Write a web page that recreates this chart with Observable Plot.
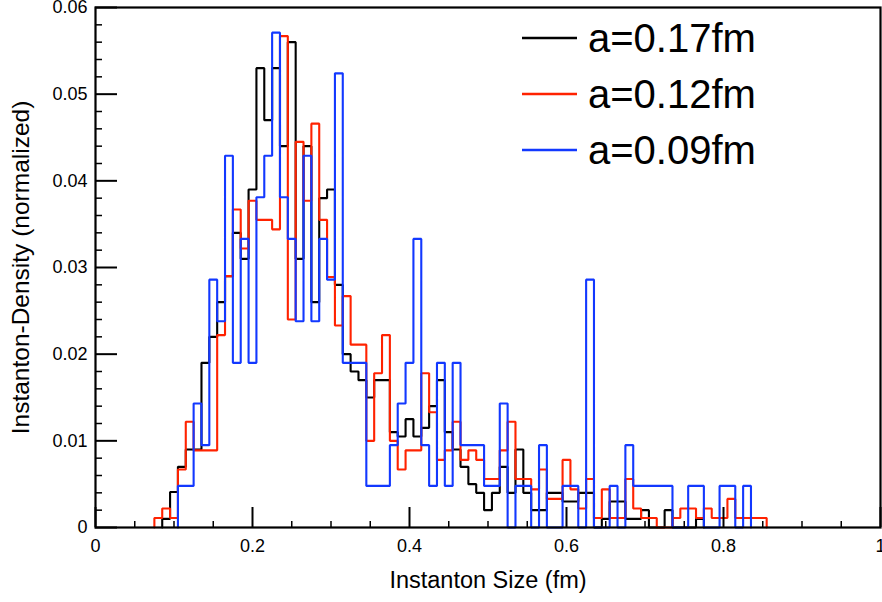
<!DOCTYPE html>
<html>
<head>
<meta charset="utf-8">
<script src="https://cdn.jsdelivr.net/npm/d3@7"></script>
<script src="https://cdn.jsdelivr.net/npm/@observablehq/plot@0.6"></script>
<style>
  html, body { margin: 0; padding: 0; background: #fff; }
</style>
</head>
<body>
<div id="chart"></div>
<script>
// ---- data ----
const binWidth = 0.01;
const binCenters = [
  0.08, 0.09, 0.10, 0.11, 0.12, 0.13, 0.14, 0.15, 0.16, 0.17,
  0.18, 0.19, 0.20, 0.21, 0.22, 0.23, 0.24, 0.25, 0.26, 0.27,
  0.28, 0.29, 0.30, 0.31, 0.32, 0.33, 0.34, 0.35, 0.36, 0.37,
  0.38, 0.39, 0.40, 0.41, 0.42, 0.43, 0.44, 0.45, 0.46, 0.47,
  0.48, 0.49, 0.50, 0.51, 0.52, 0.53, 0.54, 0.55, 0.56, 0.57,
  0.58, 0.59, 0.60, 0.61, 0.62, 0.63, 0.64, 0.65, 0.66, 0.67,
  0.68, 0.69, 0.70, 0.71, 0.72, 0.73, 0.74, 0.75, 0.76, 0.77,
  0.78, 0.79, 0.80, 0.81, 0.82, 0.83, 0.84, 0.85
];
// a = 0.17 fm
const densityA017 = [
  0, 0.001, 0.0041, 0.007, 0.009, 0.009, 0.019, 0.022, 0.026, 0.029,
  0.034, 0.031, 0.039, 0.053, 0.047, 0.053, 0.044, 0.056, 0.031, 0.044,
  0.026, 0.038, 0.039, 0.028, 0.020, 0.018, 0.017, 0.015, 0.017, 0.017,
  0.011, 0.0105, 0.0125, 0.0105, 0.0115, 0.014, 0.017, 0.011, 0.009, 0.007,
  0.005, 0.004, 0.002, 0.004, 0.007, 0.004, 0.009, 0.004, 0.002, 0.002,
  0.004, 0.004, 0.003, 0.003, 0.004, 0.004, 0, 0.001, 0.003, 0.003,
  0.001, 0.001, 0.002, 0, 0, 0.002, 0, 0, 0, 0.001,
  0, 0, 0, 0, 0, 0, 0, 0
];
// a = 0.12 fm
const densityA012 = [
  0.0011, 0.0022, 0.0011, 0.0067, 0.0122, 0.0089, 0.0089, 0.0089, 0.0222, 0.029,
  0.0367, 0.0322, 0.0377, 0.0355, 0.0355, 0.0344, 0.0567, 0.024, 0.0445, 0.0377,
  0.0466, 0.0355, 0.0289, 0.0233, 0.0267, 0.0211, 0.0211, 0.010, 0.0178, 0.0222,
  0.010, 0.0067, 0.0089, 0.0089, 0.0178, 0.0133, 0.0078, 0.0089, 0.0122, 0.0078,
  0.0089, 0.0078, 0.0056, 0.0056, 0.0089, 0.0122, 0.0056, 0.0056, 0.0044, 0.0067,
  0.0033, 0.0033, 0.0078, 0.0044, 0.0022, 0.0056, 0.0011, 0.0044, 0.0011, 0.0011,
  0.0056, 0.0022, 0.0011, 0.0011, 0, 0, 0.0011, 0.0022, 0.0022, 0.0011,
  0.0022, 0.0011, 0.0011, 0.0033, 0.0011, 0.0011, 0.0011, 0.0011
];
// a = 0.09 fm
const densityA009 = [
  0, 0, 0, 0.0048, 0.0048, 0.0143, 0.0095, 0.0286, 0.0238, 0.0429,
  0.019, 0.0333, 0.019, 0.0381, 0.0429, 0.0571, 0.0381, 0.0333, 0.0238, 0.0429,
  0.0238, 0.0333, 0.0286, 0.0524, 0.019, 0.019, 0.019, 0.0048, 0.0048, 0.0048,
  0.0095, 0.0143, 0.019, 0.0333, 0.0095, 0.0048, 0.019, 0.0048, 0.019, 0.0095,
  0.0095, 0.0095, 0.0048, 0.0048, 0.0143, 0, 0.0048, 0.0048, 0, 0.0095,
  0, 0, 0.0048, 0.0048, 0, 0.0286, 0, 0, 0.0048, 0,
  0.0095, 0.0048, 0.0048, 0.0048, 0.0048, 0.0048, 0, 0, 0.0048, 0.0048,
  0, 0, 0.0048, 0.0048, 0, 0.0048, 0, 0
];
const seriesNames = ["a=0.17fm", "a=0.12fm", "a=0.09fm"];
const seriesColors = ["#000000", "#ff2200", "#1238ff"];

const xTicks = [0, 0.2, 0.4, 0.6, 0.8, 1];
const xTickLabels = ["0", "0.2", "0.4", "0.6", "0.8", "1"];
const xMinorTicks = [0.05, 0.1, 0.15, 0.25, 0.3, 0.35, 0.45, 0.5, 0.55, 0.65, 0.7, 0.75, 0.85, 0.9, 0.95];
const yTicks = [0, 0.01, 0.02, 0.03, 0.04, 0.05, 0.06];
const yTickLabels = ["0", "0.01", "0.02", "0.03", "0.04", "0.05", "0.06"];
const yMinorTicks = [0.002, 0.004, 0.006, 0.008, 0.012, 0.014, 0.016, 0.018, 0.022, 0.024, 0.026, 0.028,
  0.032, 0.034, 0.036, 0.038, 0.042, 0.044, 0.046, 0.048, 0.052, 0.054, 0.056, 0.058];
const xTitle = "Instanton Size (fm)";
const yTitle = "Instanton-Density (normalized)";

// ---- build histogram outlines (ROOT style step outline) ----
function outline(values) {
  let i0 = values.findIndex(v => v > 0);
  let i1 = values.length - 1;
  while (i1 > 0 && !(values[i1] > 0)) i1--;
  const pts = [{x: binCenters[i0] - binWidth / 2, y: 0}];
  for (let i = i0; i <= i1; i++) {
    pts.push({x: binCenters[i] - binWidth / 2, y: values[i]});
    pts.push({x: binCenters[i] + binWidth / 2, y: values[i]});
  }
  pts.push({x: binCenters[i1] + binWidth / 2, y: 0});
  return pts;
}
const series = [densityA017, densityA012, densityA009].map(outline);

const FONT = "'Liberation Sans', Arial, Helvetica, sans-serif";
const W = 882, H = 602;
const mL = 95, mR = 2, mT = 7, mB = 75;
const frameW = W - mL - mR, frameH = H - mT - mB;

const legendMark = (index, scales, values, dimensions) => {
  const g = d3.create("svg:g")
    .attr("font-family", FONT)
    .attr("font-size", 40)
    .attr("text-anchor", "start");
  seriesNames.forEach((name, i) => {
    const y = 38 + i * 56;
    g.append("line")
      .attr("x1", 522).attr("x2", 577)
      .attr("y1", y).attr("y2", y)
      .attr("stroke", seriesColors[i])
      .attr("stroke-width", 2.5);
    g.append("text")
      .attr("x", 588).attr("y", y)
      .attr("dy", "0.36em")
      .attr("text-anchor", "start")
      .attr("fill", "#000")
      .text(name);
  });
  return g.node();
};

const chart = Plot.plot({
  width: W, height: H,
  marginLeft: mL, marginRight: mR, marginTop: mT, marginBottom: mB,
  style: {fontFamily: FONT, background: "#fff", overflow: "visible"},
  x: {domain: [0, 1]},
  y: {domain: [0, 0.06]},
  marks: [
    ...series.map((pts, i) => Plot.line(pts, {
      x: "x", y: "y", stroke: seriesColors[i], strokeWidth: 2.1, strokeLinejoin: "miter"
    })),
    // ticks inside the frame
    Plot.tickX(xTicks, {x: d => d, insetTop: frameH - 20, stroke: "#000", strokeWidth: 2}),
    Plot.tickX(xMinorTicks, {x: d => d, insetTop: frameH - 6, stroke: "#000", strokeWidth: 1.5}),
    Plot.tickY(yTicks, {y: d => d, insetRight: frameW - 22, stroke: "#000", strokeWidth: 2}),
    Plot.tickY(yMinorTicks, {y: d => d, insetRight: frameW - 7, stroke: "#000", strokeWidth: 1.5}),
    Plot.frame({stroke: "#000", strokeWidth: 2.2}),
    Plot.axisX(xTicks, {
      tickSize: 0, tickPadding: 12, fontSize: 18, label: null,
      tickFormat: (d, i) => xTickLabels[i]
    }),
    Plot.axisY(yTicks, {
      tickSize: 0, tickPadding: 8, fontSize: 18, label: null,
      tickFormat: (d, i) => yTickLabels[i]
    }),
    Plot.text([xTitle], {
      frameAnchor: "bottom", dy: 53, fontSize: 23.5, fill: "#000",
      textAnchor: "middle", lineAnchor: "middle"
    }),
    Plot.text([yTitle], {
      frameAnchor: "left", dx: -74, rotate: -90, fontSize: 24.5, fill: "#000",
      textAnchor: "middle", lineAnchor: "middle"
    }),
    legendMark
  ]
});
chart.style.display = "block";
document.getElementById("chart").appendChild(chart);
</script>
</body>
</html>
